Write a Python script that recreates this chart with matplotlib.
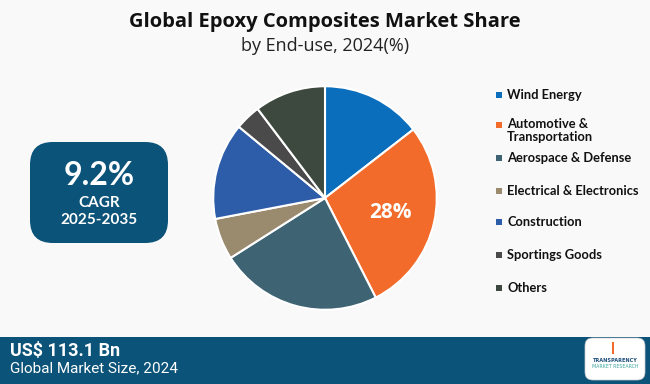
import matplotlib
matplotlib.use("Agg")
import matplotlib.pyplot as plt
from matplotlib.patches import FancyBboxPatch, Rectangle
import numpy as np

# data
segments = ["Wind Energy", "Automotive &\nTransportation", "Aerospace & Defense",
            "Electrical & Electronics", "Construction", "Sportings Goods", "Others"]
shares = [14.5, 28.0, 23.5, 6.0, 14.0, 3.7, 10.3]
colors = ["#0a6ebd", "#f26b2a", "#3e6474", "#9a8b6f", "#2d5da8", "#4a4a4a", "#3d493e"]
shown_label = "28%"
cagr = "9.2%"
cagr_period = "2025-2035"
market_size = "US$ 113.1 Bn"

navy = "#0b5378"
W, H = 650, 384

fig = plt.figure(figsize=(6.5, 3.84), dpi=100)
fig.patch.set_facecolor("#f9f9f9")

def fx(px):
    return px / W

def fy(py):
    return 1 - py / H

# title
fig.text(0.5, fy(22), "Global Epoxy Composites Market Share", ha="center", va="center",
         fontsize=14.5, fontweight="bold", family="Open Sans", color="#111111")
fig.text(0.5, fy(46), "by End-use, 2024(%)", ha="center", va="center",
         fontsize=13, family="Open Sans", color="#222222")

# pie
cx, cy, r = 325, 198, 114
ax = fig.add_axes([fx(cx - r), fy(cy + r), fx(2 * r), 2 * r / H])
wedges, _ = ax.pie(shares, colors=colors, startangle=90, counterclock=False,
                   wedgeprops=dict(edgecolor="white", linewidth=1.5))
ax.set_xlim(-1.02, 1.02)
ax.set_ylim(-1.02, 1.02)
ax.set_aspect("equal")
ax.axis("off")

w = wedges[1]
mid = np.deg2rad((w.theta1 + w.theta2) / 2)
ax.text(0.6 * np.cos(mid), 0.6 * np.sin(mid), shown_label, ha="center", va="center",
        fontsize=15, fontweight="bold", color="white", family="Open Sans")

# legend
legend_y = [95, 125, 158, 191, 222, 255, 288]
for lab, col, ly in zip(segments, colors, legend_y):
    fig.patches.append(Rectangle((fx(496), fy(ly + 3)), fx(6), 6 / H, facecolor=col,
                                 transform=fig.transFigure, figure=fig))
    if "\n" in lab:
        fig.text(fx(507), fy(ly - 7), lab, ha="left", va="top", fontsize=9.3,
                 fontweight="bold", family="Lato", color="#111111", linespacing=1.1)
    else:
        fig.text(fx(507), fy(ly), lab, ha="left", va="center", fontsize=9.3,
                 fontweight="bold", family="Lato", color="#111111")

# CAGR box
fig.patches.append(FancyBboxPatch((fx(30), fy(243)), fx(138), 101 / H,
                                  boxstyle="round,pad=0,rounding_size=0.035",
                                  mutation_aspect=W / H,
                                  facecolor=navy, edgecolor="none",
                                  transform=fig.transFigure, figure=fig))
fig.text(fx(99), fy(176), cagr, ha="center", va="center", fontsize=23,
         fontweight="bold", color="white", family="Lato")
fig.text(fx(99), fy(203), "CAGR", ha="center", va="center", fontsize=11,
         fontweight="bold", color="white", family="Lato")
fig.text(fx(99), fy(220), cagr_period, ha="center", va="center", fontsize=11,
         fontweight="bold", color="white", family="Lato")

# bottom bar
fig.patches.append(Rectangle((0, 0), 1, fy(337), facecolor=navy,
                             transform=fig.transFigure, figure=fig))
fig.text(fx(10), fy(351), market_size, ha="left", va="center", fontsize=13,
         fontweight="bold", color="white", family="Roboto")
fig.text(fx(10), fy(368), "Global Market Size, 2024", ha="left", va="center",
         fontsize=11, color="white", family="Roboto")

# logo
fig.patches.append(FancyBboxPatch((fx(585), fy(380)), fx(60), 42 / H,
                                  boxstyle="round,pad=0,rounding_size=0.012",
                                  mutation_aspect=W / H,
                                  facecolor="white", edgecolor="#cccccc", linewidth=0.5,
                                  transform=fig.transFigure, figure=fig))
fig.text(fx(615), fy(360), "TRANSPARENCY", ha="center", va="center", fontsize=3.6,
         fontweight="bold", color="#1c4f7a", family="DejaVu Sans")
fig.text(fx(615), fy(366), "MARKET RESEARCH", ha="center", va="center", fontsize=3.4,
         color="#3fa6a0", family="DejaVu Sans")
fig.patches.append(FancyBboxPatch((fx(612), fy(354)), fx(2), 12 / H,
                                  boxstyle="square,pad=0", facecolor="#f26b2a",
                                  edgecolor="none", transform=fig.transFigure, figure=fig))

fig.savefig("out.png", dpi=100, facecolor=fig.get_facecolor())
